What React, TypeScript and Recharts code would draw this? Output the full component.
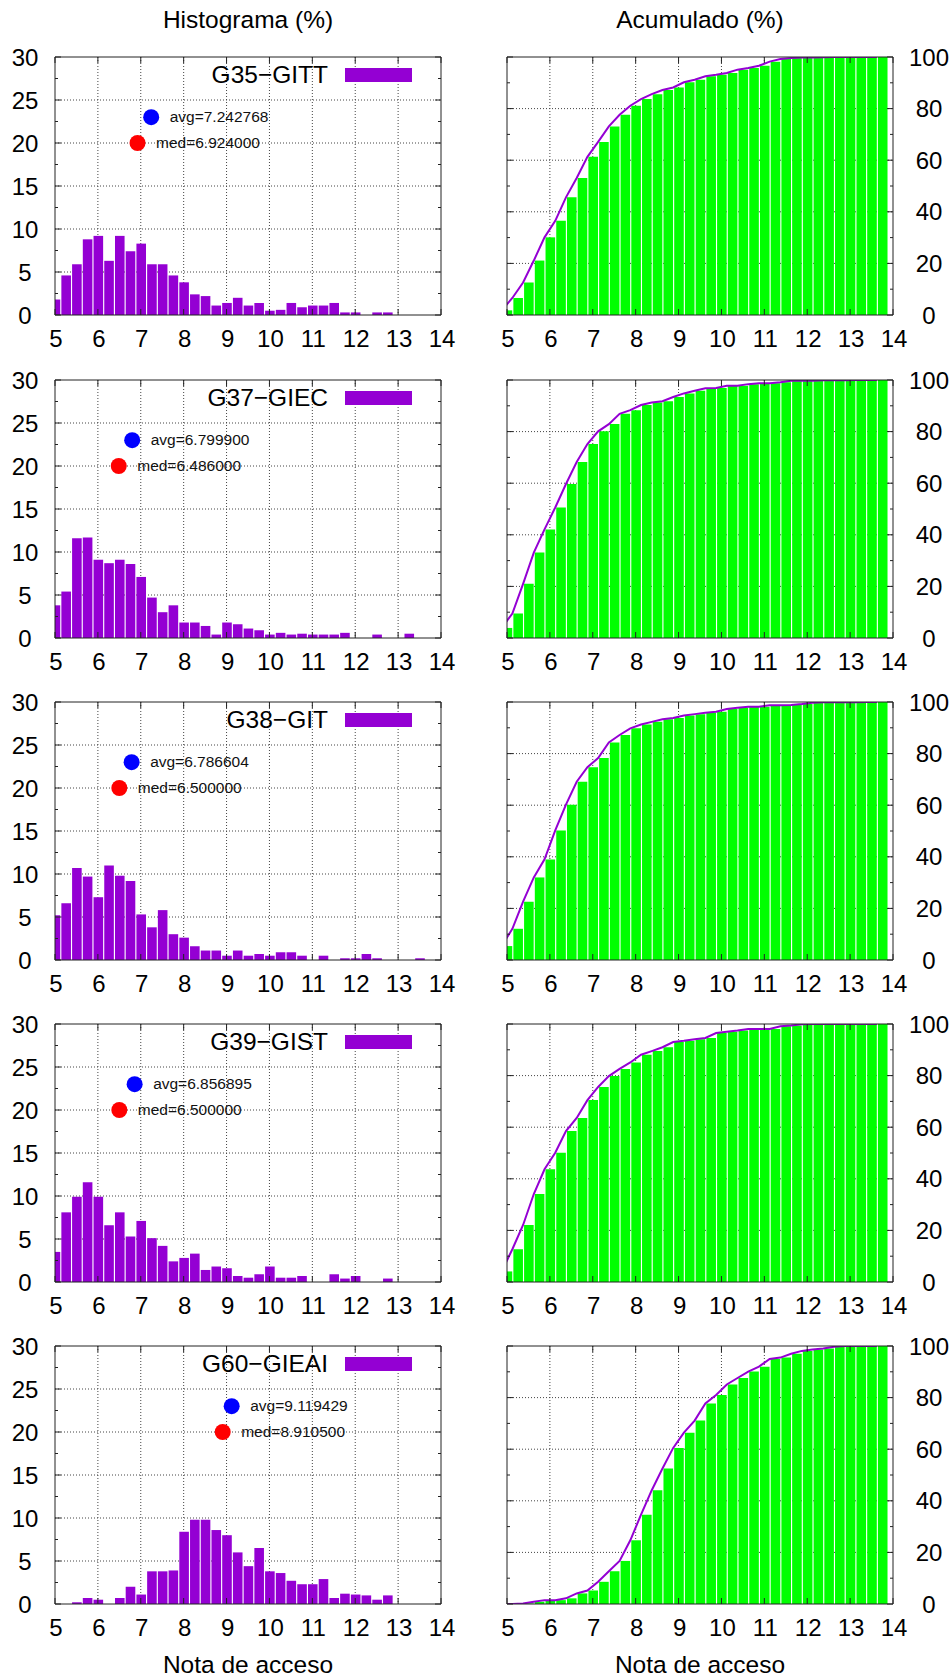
import React from "react";
import {
  ComposedChart,
  Bar,
  Line,
  Scatter,
  XAxis,
  YAxis,
  CartesianGrid,
  Legend,
} from "recharts";

// bin centres (nota de acceso), 0.25 wide
const BINS = [
  5, 5.25, 5.5, 5.75, 6, 6.25, 6.5, 6.75, 7, 7.25, 7.5, 7.75,
  8, 8.25, 8.5, 8.75, 9, 9.25, 9.5, 9.75, 10, 10.25, 10.5, 10.75,
  11, 11.25, 11.5, 11.75, 12, 12.25, 12.5, 12.75, 13, 13.25, 13.5, 13.75,
];
const BIN_WIDTH = 0.25;

const GROUPS = ["G35−GITT", "G37−GIEC", "G38−GIT", "G39−GIST", "G60−GIEAI"];
const AVG = [7.242768, 6.7999, 6.786604, 6.856895, 9.119429];
const MED = [6.924, 6.486, 6.5, 6.5, 8.9105];
const AVG_Y = 23;
const MED_Y = 20;

// histogram (%)
const HIST_G35 = [1.8, 4.6, 5.9, 8.8, 9.2, 6.3, 9.2, 7.4, 8.3, 5.9, 5.9, 4.6, 3.8, 2.4, 2.2, 1.1, 1.4, 2.0, 1.1, 1.4, 0.5, 0.6, 1.4, 0.9, 1.1, 1.1, 1.4, 0.3, 0.3, 0, 0.3, 0.3, 0, 0, 0, 0];
const HIST_G37 = [3.8, 5.4, 11.6, 11.7, 9.1, 8.7, 9.1, 8.6, 7.1, 4.7, 3.0, 3.8, 1.8, 1.8, 1.4, 0.4, 1.8, 1.6, 1.1, 0.9, 0.4, 0.6, 0.4, 0.5, 0.4, 0.4, 0.4, 0.6, 0, 0, 0.4, 0, 0, 0.5, 0, 0];
const HIST_G38 = [5.2, 6.6, 10.7, 9.7, 7.3, 11.0, 9.8, 9.2, 5.3, 3.8, 5.8, 3.0, 2.6, 1.6, 1.1, 1.1, 0.5, 1.1, 0.5, 0.7, 0.5, 0.9, 0.9, 0.5, 0, 0.5, 0, 0.2, 0.2, 0.7, 0.2, 0, 0, 0, 0.2, 0];
const HIST_G39 = [3.5, 8.1, 9.9, 11.6, 9.9, 6.6, 8.1, 5.3, 7.1, 5.1, 4.2, 2.4, 2.8, 3.3, 1.4, 1.8, 1.6, 0.7, 0.5, 0.9, 1.8, 0.5, 0.5, 0.7, 0, 0, 0.9, 0.4, 0.7, 0, 0, 0.4, 0, 0, 0, 0];
const HIST_G60 = [0, 0, 0.2, 0.7, 0.5, 0, 0.7, 2.0, 1.1, 3.8, 3.8, 3.9, 8.4, 9.8, 9.8, 8.6, 8.0, 6.0, 4.4, 6.5, 3.8, 3.6, 2.7, 2.3, 2.3, 2.9, 0.7, 1.2, 1.1, 1.0, 0.5, 1.0, 0, 0, 0, 0];

// acumulado (%)
const CUM_G35 = [1.8, 6.6, 12.6, 21.1, 30.1, 36.5, 45.6, 53.1, 61.3, 67.1, 73.1, 77.6, 81.1, 83.7, 85.6, 87.2, 88.2, 90.2, 91.2, 92.5, 93.1, 93.8, 95.1, 95.7, 96.6, 98.2, 99.2, 99.6, 99.8, 99.8, 99.9, 100, 100, 100, 100, 100];
const CUM_G37 = [3.9, 9.5, 21.0, 33.1, 42.1, 50.6, 59.7, 68.2, 75.2, 80.1, 82.9, 86.9, 88.3, 90.3, 91.3, 91.8, 93.4, 94.8, 95.8, 96.8, 96.9, 97.8, 97.8, 98.4, 98.7, 98.7, 99.1, 99.7, 99.7, 99.7, 99.9, 99.9, 99.9, 100, 100, 100];
const CUM_G38 = [5.4, 12.1, 22.6, 32.0, 39.0, 50.2, 60.2, 69.1, 74.7, 78.3, 84.3, 87.2, 89.8, 91.3, 92.3, 93.3, 93.8, 94.8, 95.3, 95.8, 96.2, 97.3, 97.8, 98.2, 98.2, 98.7, 98.7, 98.8, 99.2, 99.7, 99.9, 99.9, 99.9, 99.9, 100, 100];
const CUM_G39 = [4.1, 12.7, 22.1, 34.1, 43.7, 50.1, 58.5, 63.6, 70.5, 75.6, 79.8, 82.6, 85.1, 88.1, 89.5, 91.0, 93.0, 93.5, 94.1, 94.6, 96.5, 97.0, 97.5, 98.1, 98.1, 98.1, 99.1, 99.4, 99.9, 100, 100, 100, 100, 100, 100, 100];
const CUM_G60 = [0, 0, 0.2, 0.9, 1.5, 1.5, 2.2, 4.1, 5.2, 8.6, 12.7, 16.7, 24.7, 34.6, 44.1, 52.5, 60.5, 66.4, 71.1, 77.7, 81.0, 85.1, 87.6, 90.1, 92.0, 95.0, 95.5, 97.0, 98.1, 98.6, 99.0, 99.7, 100, 100, 100, 100];

const HISTS = [HIST_G35, HIST_G37, HIST_G38, HIST_G39, HIST_G60];
const CUMS = [CUM_G35, CUM_G37, CUM_G38, CUM_G39, CUM_G60];

const X_TICKS = [5, 6, 7, 8, 9, 10, 11, 12, 13, 14];
const GRID_X = [6, 7, 8, 9, 10, 11, 12, 13];
const HIST_Y_TICKS = [0, 2.5, 5, 7.5, 10, 12.5, 15, 17.5, 20, 22.5, 25, 27.5, 30];
const HIST_GRID_Y = [5, 10, 15, 20, 25];
const CUM_Y_TICKS = [0, 10, 20, 30, 40, 50, 60, 70, 80, 90, 100];
const CUM_GRID_Y = [20, 40, 60, 80];

// layout
const FONT = '"Liberation Sans", Arial, Helvetica, sans-serif';
const INK = "#000";
const FRAME = "#222";
const GRID = "#444";
const PURPLE = "#9400d3";
const GREEN = "#00ff00";
const BLUE = "#0000ff";
const RED = "#ff0000";
const PLOT_TOPS = [57, 380, 702, 1024, 1346];
const PLOT_H = 258;
const MT = 20;
const X_AXIS_H = 45;
const LAST_X_AXIS_H = 75;

function BottomTick(props: any) {
  const { x, y, payload } = props;
  return (
    <g>
      <line x1={x} y1={y} x2={x} y2={y - 6} stroke={FRAME} />
      <text x={x + 1} y={y + 32} textAnchor="middle" fontSize={24} fill={INK} fontFamily={FONT}>
        {payload.value}
      </text>
    </g>
  );
}

function TopTick(props: any) {
  const { x, y } = props;
  return <line x1={x} y1={y} x2={x} y2={y + 6} stroke={FRAME} />;
}

function yTick(side: "left" | "right", step: number, labelDx: number | null) {
  return function YTick(props: any) {
    const { x, y, payload } = props;
    const major = payload.value % step === 0;
    const dir = side === "left" ? 1 : -1;
    return (
      <g>
        <line x1={x} y1={y} x2={x + dir * (major ? 6 : 3)} y2={y} stroke={FRAME} />
        {major && labelDx !== null && (
          <text x={x + labelDx} y={y} dy="0.36em" textAnchor="middle" fontSize={24} fill={INK} fontFamily={FONT}>
            {payload.value}
          </text>
        )}
      </g>
    );
  };
}

function StatDot(props: any) {
  const { cx, cy, payload } = props;
  return (
    <g>
      <circle cx={cx} cy={cy} r={8} fill={payload.color} />
      <text x={cx + 18.5} y={cy} dy="0.3em" fontSize={15.5} fill="#111" fontFamily={FONT}>
        {payload.label}
      </text>
    </g>
  );
}

function LegendBox({ name }: { name: string }) {
  return (
    <div style={{ position: "relative", width: 460, height: 30, fontFamily: FONT }}>
      <span style={{ position: "absolute", right: 460 - 328, top: 0, fontSize: 24.5, lineHeight: "30px", whiteSpace: "nowrap", color: INK }}>
        {name}
      </span>
      <span style={{ position: "absolute", left: 345, top: 8, width: 67, height: 14, background: PURPLE }} />
    </div>
  );
}

const AXIS_LABEL = { value: "Nota de acceso", position: "insideBottom", offset: 6, fontSize: 24.5, fill: INK } as const;

function HistPanel({ row }: { row: number }) {
  const last = row === GROUPS.length - 1;
  const axisH = last ? LAST_X_AXIS_H : X_AXIS_H;
  const data = BINS.map((x, i) => ({ x, v: HISTS[row][i] }));
  const stats = [
    { x: AVG[row], y: AVG_Y, label: `avg=${AVG[row].toFixed(6)}`, color: BLUE },
    { x: MED[row], y: MED_Y, label: `med=${MED[row].toFixed(6)}`, color: RED },
  ];
  return (
    <div style={{ position: "absolute", left: 0, top: PLOT_TOPS[row] - MT }}>
      <ComposedChart width={460} height={MT + PLOT_H + axisH} data={data} margin={{ top: MT - 1, right: 18, bottom: 0, left: 0 }}>
        <CartesianGrid stroke={GRID} strokeDasharray="1 2" horizontalValues={HIST_GRID_Y} verticalValues={GRID_X} />
        <XAxis
          dataKey="x" type="number" domain={[5, 14]} ticks={X_TICKS} allowDataOverflow interval={0}
          height={axisH} tickLine={false} tickSize={0} tickMargin={0} axisLine={{ stroke: FRAME }} tick={BottomTick}
          label={last ? AXIS_LABEL : undefined}
        />
        <XAxis
          xAxisId="top" orientation="top" dataKey="x" type="number" domain={[5, 14]} ticks={X_TICKS} allowDataOverflow
          interval={0} height={1} tickLine={false} tickSize={0} tickMargin={0} axisLine={{ stroke: FRAME }} tick={TopTick}
        />
        <XAxis xAxisId="stats" dataKey="x" type="number" domain={[5, 14]} allowDataOverflow hide />
        <YAxis
          type="number" domain={[0, 30]} ticks={HIST_Y_TICKS} allowDataOverflow interval={0} width={55}
          tickLine={false} tickSize={0} tickMargin={0} axisLine={{ stroke: FRAME }} tick={yTick("left", 5, -30)}
        />
        <YAxis
          yAxisId="right" orientation="right" type="number" domain={[0, 30]} ticks={HIST_Y_TICKS} allowDataOverflow
          interval={0} width={1} tickLine={false} tickSize={0} tickMargin={0} axisLine={{ stroke: FRAME }}
          tick={yTick("right", 5, null)}
        />
        <Bar dataKey="v" name={GROUPS[row]} fill={PURPLE} barSize={9.6} isAnimationActive={false} />
        <Scatter xAxisId="stats" data={stats} dataKey="y" shape={StatDot} isAnimationActive={false} />
        <Legend
          layout="horizontal" verticalAlign="middle" align="center"
          wrapperStyle={{ top: MT + 2.5, left: 0, width: 460, height: 30 }}
          content={() => <LegendBox name={GROUPS[row]} />}
        />
      </ComposedChart>
    </div>
  );
}

function CumPanel({ row }: { row: number }) {
  const last = row === GROUPS.length - 1;
  const axisH = last ? LAST_X_AXIS_H : X_AXIS_H;
  const data = BINS.map((x, i) => ({ x, v: CUMS[row][i] }));
  // gnuplot's cumulative curve runs along the left edge of each box
  const curve = BINS.map((x, i) => ({ x: x - BIN_WIDTH / 2, v: CUMS[row][i] }));
  return (
    <div style={{ position: "absolute", left: 470, top: PLOT_TOPS[row] - MT }}>
      <ComposedChart width={482} height={MT + PLOT_H + axisH} data={data} margin={{ top: MT - 1, right: 0, bottom: 0, left: 36 }}>
        <CartesianGrid stroke={GRID} strokeDasharray="1 2" horizontalValues={CUM_GRID_Y} verticalValues={GRID_X} />
        <XAxis
          dataKey="x" type="number" domain={[5, 14]} ticks={X_TICKS} allowDataOverflow interval={0}
          height={axisH} tickLine={false} tickSize={0} tickMargin={0} axisLine={{ stroke: FRAME }} tick={BottomTick}
          label={last ? AXIS_LABEL : undefined}
        />
        <XAxis
          xAxisId="top" orientation="top" dataKey="x" type="number" domain={[5, 14]} ticks={X_TICKS} allowDataOverflow
          interval={0} height={1} tickLine={false} tickSize={0} tickMargin={0} axisLine={{ stroke: FRAME }} tick={TopTick}
        />
        <XAxis xAxisId="curve" dataKey="x" type="number" domain={[5, 14]} allowDataOverflow hide />
        <YAxis
          orientation="right" type="number" domain={[0, 100]} ticks={CUM_Y_TICKS} allowDataOverflow interval={0} width={59}
          tickLine={false} tickSize={0} tickMargin={0} axisLine={{ stroke: FRAME }} tick={yTick("right", 20, 36)}
        />
        <YAxis
          yAxisId="left" orientation="left" type="number" domain={[0, 100]} ticks={CUM_Y_TICKS} allowDataOverflow
          interval={0} width={1} tickLine={false} tickSize={0} tickMargin={0} axisLine={{ stroke: FRAME }}
          tick={yTick("left", 20, null)}
        />
        <Line xAxisId="curve" data={curve} dataKey="v" type="linear" stroke={PURPLE} strokeWidth={2} dot={false} isAnimationActive={false} />
        <Bar dataKey="v" fill={GREEN} barSize={9.6} isAnimationActive={false} />
      </ComposedChart>
    </div>
  );
}

export default function App() {
  const titleStyle: React.CSSProperties = {
    position: "absolute", top: 5, width: 386, textAlign: "center", fontSize: 24.5, lineHeight: "30px", color: INK,
  };
  return (
    <div style={{ position: "absolute", left: 0, top: 0, width: 952, height: 1679, overflow: "hidden", background: "#fff", fontFamily: FONT }}>
      <div style={{ ...titleStyle, left: 55 }}>Histograma (%)</div>
      <div style={{ ...titleStyle, left: 507 }}>Acumulado (%)</div>
      {GROUPS.map((g, row) => (
        <React.Fragment key={g}>
          <HistPanel row={row} />
          <CumPanel row={row} />
        </React.Fragment>
      ))}
    </div>
  );
}
